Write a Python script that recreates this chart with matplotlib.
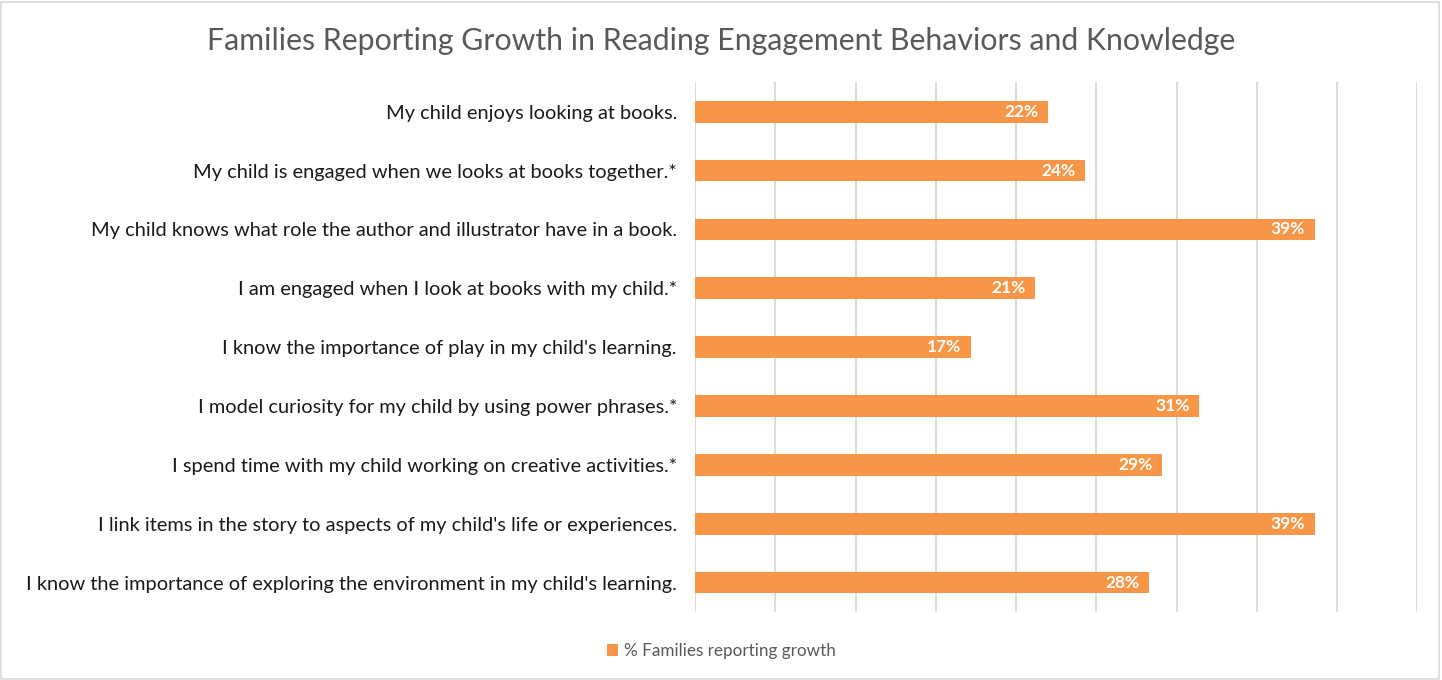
import matplotlib
matplotlib.use("Agg")
import matplotlib.pyplot as plt
from matplotlib.patches import Rectangle

# ---------------------------------------------------------------------------
# Data
# ---------------------------------------------------------------------------
statements = [
    "My child enjoys looking at books.",
    "My child is engaged when we looks at books together.*",
    "My child knows what role the author and illustrator have in a book.",
    "I am engaged when I look at books with my child.*",
    "I know the importance of play in my child's learning.",
    "I model curiosity for my child by using power phrases.*",
    "I spend time with my child working on creative activities.*",
    "I link items in the story to aspects of my child's life or experiences.",
    "I know the importance of exploring the environment in my child's learning.",
]
pct_growth = [22.0, 24.3, 38.6, 21.2, 17.2, 31.4, 29.1, 38.6, 28.3]
series_name = "% Families reporting growth"
title = "Families Reporting Growth in Reading Engagement Behaviors and Knowledge"

BAR_COLOR = "#F79646"
GRID_COLOR = "#D9D9D9"
TEXT_GRAY = "#595959"

plt.rcParams["font.family"] = ["Lato", "DejaVu Sans"]

fig = plt.figure(figsize=(14.42, 6.8), dpi=100)
ax = fig.add_axes([0.482, 0.10, 0.501, 0.779])

y = list(range(len(statements)))
bars = ax.barh(y, pct_growth, height=0.37, color=BAR_COLOR, label=series_name, zorder=3)

ax.set_xlim(0, 45)
ax.set_ylim(len(statements) - 0.5, -0.5)
ax.set_xticks(range(0, 46, 5))
ax.xaxis.grid(True, color=GRID_COLOR, linewidth=1.3, zorder=0)
ax.tick_params(axis="x", length=0, labelbottom=False)
ax.tick_params(axis="y", length=0, pad=13)
ax.set_yticks(y)
ax.set_yticklabels(statements, fontsize=14.4, color="#1a1a1a")
for s in ax.spines.values():
    s.set_visible(False)

for rect, v in zip(bars, pct_growth):
    ax.text(rect.get_width() - 0.6, rect.get_y() + rect.get_height() / 2,
            f"{round(v)}%", ha="right", va="center", color="white",
            fontsize=12.5, fontweight="bold", zorder=4)

fig.suptitle(title, x=0.5, y=0.96, fontsize=21.8, color=TEXT_GRAY)

leg = fig.legend(handles=[bars], labels=[series_name], loc="center",
                 bbox_to_anchor=(0.5, 0.043), frameon=False, fontsize=12.3,
                 handlelength=0.7, handleheight=0.7, handletextpad=0.3)
for t in leg.get_texts():
    t.set_color(TEXT_GRAY)

# light border around the chart
fig.patches.append(Rectangle((0.001, 0.002), 0.997, 0.995, transform=fig.transFigure,
                             fill=False, edgecolor=GRID_COLOR, linewidth=1.2))

fig.savefig("out.png", dpi=100)
